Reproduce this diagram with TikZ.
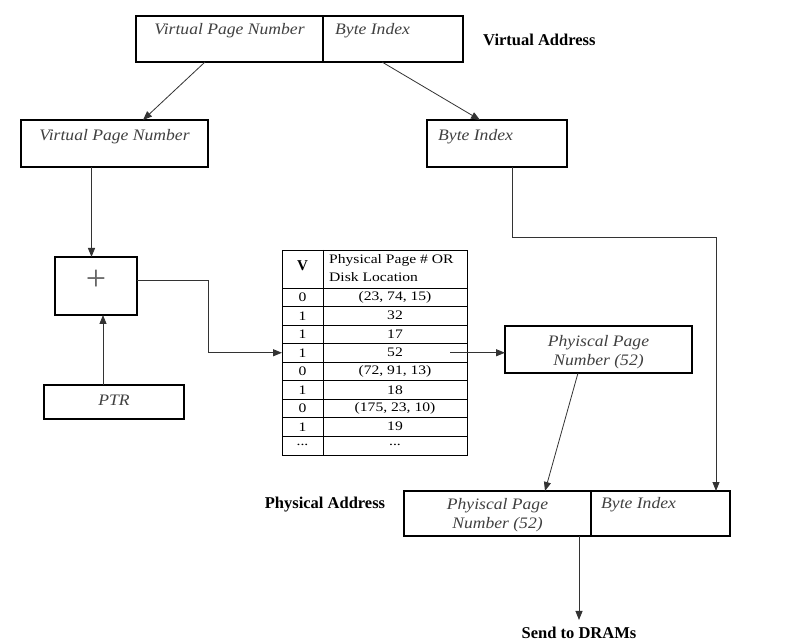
\documentclass[tikz,border=0pt]{standalone}
\usepackage{fontspec}
\setmainfont{Liberation Serif}
\newfontfamily\boxfont{Liberation Serif}[FakeStretch=1.1]
\newfontfamily\tabfont{Liberation Serif}[FakeStretch=1.2]
\usetikzlibrary{arrows.meta}
\begin{document}
\begin{tikzpicture}[x=1pt,y=-1pt,
  box/.style={draw=black, line width=1.1pt, inner sep=0pt, outer sep=0pt},
  arr/.style={draw=black!80, line width=0.8pt, -{Triangle[length=9pt,width=7pt]}},
  itxt/.style={font=\boxfont\itshape\fontsize{16}{19}\selectfont, text=black!75, inner sep=0pt, align=center},
  btxt/.style={font=\bfseries\fontsize{16.5}{19}\selectfont, inner sep=0pt},
  ttxt/.style={font=\tabfont\fontsize{13}{18}\selectfont, inner sep=0pt},
]
\useasboundingbox[fill=white] (0,0) rectangle (812,644);

% boxes
\node[box, minimum width=187pt, minimum height=46pt] (vaL) at (229.5,39) {};
\node[box, minimum width=140pt, minimum height=46pt] (vaR) at (393,39) {};
\node[box, minimum width=187pt, minimum height=47pt] (vpn) at (114.5,143.5) {};
\node[box, minimum width=140pt, minimum height=47pt] (bi) at (497,143.5) {};
\node[box, minimum width=82pt, minimum height=58pt] (plus) at (96,286) {};
\node[box, minimum width=140pt, minimum height=34pt] (ptr) at (114,402) {};
\node[box, minimum width=187pt, minimum height=47pt] (ppn) at (598.5,349.5) {};
\node[box, minimum width=187pt, minimum height=45pt] (paL) at (497.5,513.5) {};
\node[box, minimum width=139pt, minimum height=45pt] (paR) at (660.5,513.5) {};

% texts
\node[itxt] (tvaL) at (229.5,31) {Virtual Page Number};
\node[itxt, anchor=west] (tvaR) at (335,31) {Byte Index};
\node[btxt, anchor=west] (tva) at (483,40) {Virtual Address};
\node[itxt] (tvpn) at (114.5,137) {Virtual Page Number};
\node[itxt, anchor=west] (tbi) at (438,137) {Byte Index};
\node[font=\fontsize{36}{36}\selectfont, text=black!60, inner sep=0pt, anchor=base] (tplus) at (96,291) {+};
\node[itxt] (tptr) at (114,400) {PTR};
\node[itxt] (tppn) at (598.5,352.5) {Phyiscal Page\\Number (52)};
\node[itxt] (tpaL) at (497.5,515) {Phyiscal Page\\Number (52)};
\node[itxt, anchor=west] (tpaR) at (601,505) {Byte Index};
\node[btxt] (tpa) at (325,505) {Physical Address};
\node[btxt] (send) at (579,633) {Send to DRAMs};

% table
\node[box, line width=0.9pt, minimum width=185pt, minimum height=205pt] (tbl) at (374.5,352.5) {};
\draw[line width=0.9pt] (323,250) -- (323,455);
\foreach \k in {0,...,8} {
  \draw[line width=0.9pt] (282,288+18.5*\k) -- (467,288+18.5*\k);
}
\node[font=\bfseries\fontsize{15}{15}\selectfont, inner sep=0pt] (hV) at (302.5,266) {V};
\node[ttxt, anchor=west, align=left] (hP) at (329,268) {Physical Page \# OR\\Disk Location};
\foreach \v/\p [count=\i] in {0/{(23, 74, 15)},1/32,1/17,1/52,0/{(72, 91, 13)},1/18,0/{(175, 23, 10)},1/19,{...}/{...}} {
  \pgfmathsetmacro\yy{278.75+18.5*\i}
  \node[ttxt] (r\i v) at (302.5,\yy) {\v};
  \node[ttxt] (r\i p) at (395,\yy) {\p};
}

% connectors
\draw[arr] ([xshift=-24.5pt]vaL.south) -- ([xshift=28.5pt]vpn.north);
\draw[arr] ([xshift=-11pt]vaR.south) -- ([xshift=-17pt]bi.north);
\draw[arr] ([xshift=-4.5pt]plus.north |- vpn.south) -- ([xshift=-4.5pt]plus.north);
\draw[arr] ([xshift=7pt]plus.south |- ptr.north) -- ([xshift=7pt]plus.south);
\draw[arr] ([yshift=6pt]plus.east) -- ++(71,0) |- (tbl.west |- r4v);
\draw[arr] ([xshift=-17pt]tbl.east |- r4p) -- (ppn.west |- r4p);
\draw[arr] ([xshift=-20.5pt]ppn.south) -- ([xshift=47.5pt]paL.north);
\draw[arr] ([xshift=15pt]bi.south) -- ++(0,70) -| ([xshift=55.5pt]paR.north);
\draw[arr] (send.north |- paL.south) -- ([yshift=7pt]send.north);
\end{tikzpicture}
\end{document}
